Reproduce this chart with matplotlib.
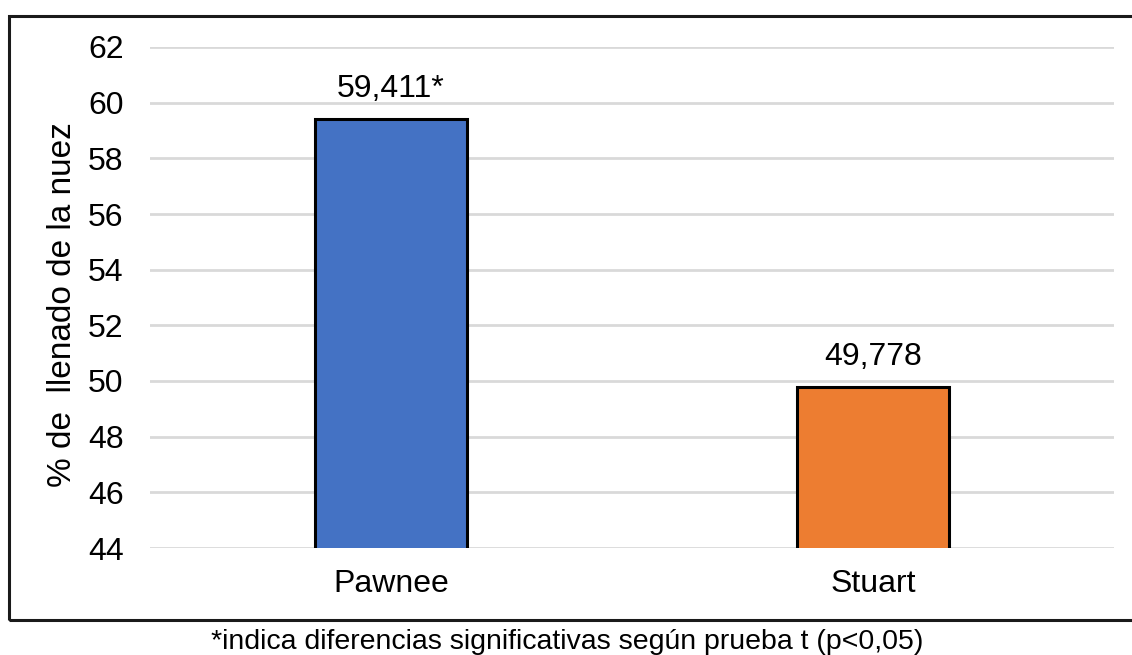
import matplotlib
matplotlib.use("Agg")
import matplotlib.pyplot as plt
from matplotlib.patches import Rectangle

categories = ["Pawnee", "Stuart"]
values = [59.411, 49.778]
value_labels = ["59,411*", "49,778"]
colors = ["#4472C4", "#ED7D31"]
y_ticks = [44, 46, 48, 50, 52, 54, 56, 58, 60, 62]

plt.rcParams["font.family"] = ["Liberation Sans", "DejaVu Sans"]

W, H = 1132, 655
FS = 23
fig = plt.figure(figsize=(W / 100, H / 100), dpi=100)
ax = fig.add_axes([150 / W, (H - 548) / H, (1114 - 150) / W, (548 - 47) / H])

x = list(range(len(categories)))
ax.bar(x, values, width=0.315, color=colors, edgecolor="black", linewidth=2.2,
       zorder=3)
ax.set_ylim(44, 62)
ax.set_xlim(-0.5, 1.5)
ax.set_yticks(y_ticks)
ax.set_yticklabels([str(t) for t in y_ticks], fontsize=FS)
ax.set_xticks(x)
ax.set_xticklabels(categories, fontsize=FS)
ax.tick_params(axis="y", length=0, pad=19)
ax.tick_params(axis="x", length=0, pad=15)
ax.grid(axis="y", color="#d9d9d9", linewidth=2, zorder=0)
for s in ax.spines.values():
    s.set_visible(False)

for xi, v, lab in zip(x, values, value_labels):
    ax.annotate(lab, (xi, v), xytext=(0, 16), textcoords="offset points",
                ha="center", va="baseline", fontsize=FS)

ax.set_ylabel("% de  llenado de la nuez", fontsize=24)
ax.yaxis.set_label_coords((78 - 150) / 964, (548 - 305) / 501)

# outer frame around the chart area
fig.patches.append(Rectangle((9 / W, (H - 620) / H), (W + 20) / W, (620 - 16) / H,
                             transform=fig.transFigure, fill=False,
                             edgecolor="#1a1a1a", linewidth=2.2))

fig.text(567 / W, (H - 642) / H,
         "*indica diferencias significativas según prueba t (p<0,05)",
         ha="center", va="center", fontsize=20.5)

fig.savefig("out.png", dpi=100)
